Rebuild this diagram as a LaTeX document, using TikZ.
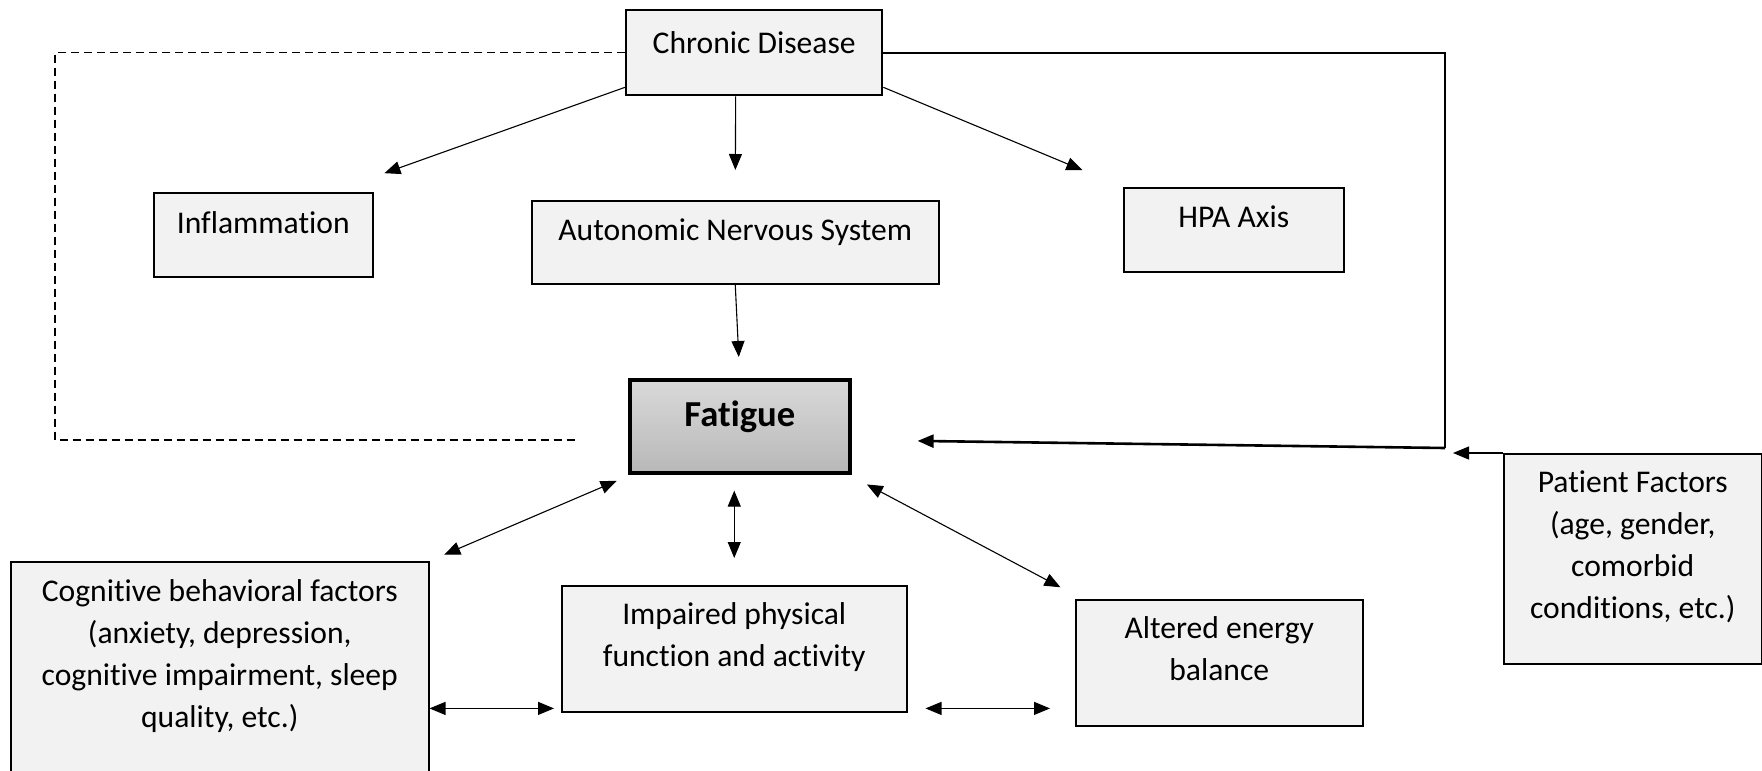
\documentclass[tikz,border=0pt]{standalone}
\usepackage{fontspec}
\setmainfont{Carlito}[Ligatures=NoCommon]
\usetikzlibrary{arrows.meta}
\definecolor{boxfill}{HTML}{F2F2F2}
\definecolor{fatiguetop}{HTML}{D9D9D9}
\definecolor{fatiguebottom}{HTML}{B8B8B8}
\tikzset{
    block/.style={
        draw,
        fill=boxfill,
        line width=0.75pt,
        align=center,
        anchor=north west,
        inner xsep=0pt,
        inner ysep=0pt,
        font=\fontsize{15.8}{21}\selectfont
    },
    arr/.style={
        -{Triangle[width=6.5pt,length=8pt]},
        line width=0.55pt
    },
    biarr/.style={
        {Triangle[width=6.5pt,length=8pt]}-{Triangle[width=6.5pt,length=8pt]},
        line width=0.55pt
    },
    dashlink/.style={
        dash pattern=on 4pt off 2.5pt,
        line width=0.7pt
    }
}

\begin{document}
\begin{tikzpicture}[x=0.5pt,y=-0.5pt]
  \clip (0,0) rectangle (1762,771);

  \node[block, line width=1.2pt, minimum width=128pt, text height=21.5pt, text depth=21pt] (chronic) at (625,9) {Chronic Disease};
  \node[block, minimum width=109.5pt, text height=20.5pt, text depth=21.5pt] (inflam) at (153,192) {Inflammation};
  \node[block, minimum width=203.5pt, text height=20pt, text depth=21.5pt] (ans) at (531,200) {Autonomic Nervous System};
  \node[block, minimum width=110pt, text height=20pt, text depth=22pt] (hpa) at (1123,187) {HPA Axis};
  \node[block, line width=1.8pt, top color=fatiguetop, bottom color=fatiguebottom, minimum width=110pt, text height=23.5pt, text depth=23pt, font=\fontsize{18.3}{22}\selectfont\bfseries] (fatigue) at (628,378) {Fatigue};
  \node[block, minimum width=209pt, text height=83pt, text depth=36.5pt] (cog) at (10,561) {Cognitive behavioral factors\\(anxiety, depression,\\cognitive impairment, sleep\\quality, etc.)};
  \node[block, minimum width=172.5pt, text height=40.5pt, text depth=22.5pt] (imp) at (561,585) {Impaired physical\\function and activity};
  \node[block, minimum width=143.5pt, text height=40.5pt, text depth=22.5pt] (alt) at (1075,599) {Altered energy\\balance};
  \node[block, minimum width=129pt, text height=82.5pt, text depth=22.5pt] (patient) at (1503,453) {Patient Factors\\(age, gender,\\comorbid\\conditions, etc.)};

  \coordinate (junction) at (1445,448);

  \draw[arr, shorten >=28pt] (chronic.195) -- (inflam.32);
  \draw[arr, shorten >=15pt] (chronic.247) -- (ans.north);
  \draw[arr, shorten >=22pt] (chronic.345) -- (hpa.north west);
  \draw[arr, shorten >=10.5pt] (ans.south) -- (fatigue.north);

  \draw[biarr, shorten <=8pt, shorten >=8pt] (fatigue.204) -- (cog.north east);
  \draw[biarr, shorten <=8pt, shorten >=13.5pt] (imp.north |- fatigue.south) -- (imp.north);
  \draw[biarr, shorten <=10.5pt, shorten >=12.5pt] (fatigue.336) -- (alt.155);
  \draw[biarr, shorten >=3.5pt] (cog.east |- imp.199) -- (imp.199);
  \draw[biarr, shorten <=9pt, shorten >=12.5pt] (imp.341) -- (imp.341 -| alt.west);

  \draw[line width=1pt] (chronic.east) -- (chronic.east -| junction) -- (junction);
  \draw[arr, line width=1.3pt, shorten >=33pt] (junction) -- (fatigue.353);
  \draw[arr, shorten >=4pt] (patient.north west) -- (patient.north west -| junction);

  \draw[dashlink, shorten >=26pt] (chronic.west) -- ++(-570,0) |- (fatigue.187);
\end{tikzpicture}
\end{document}
